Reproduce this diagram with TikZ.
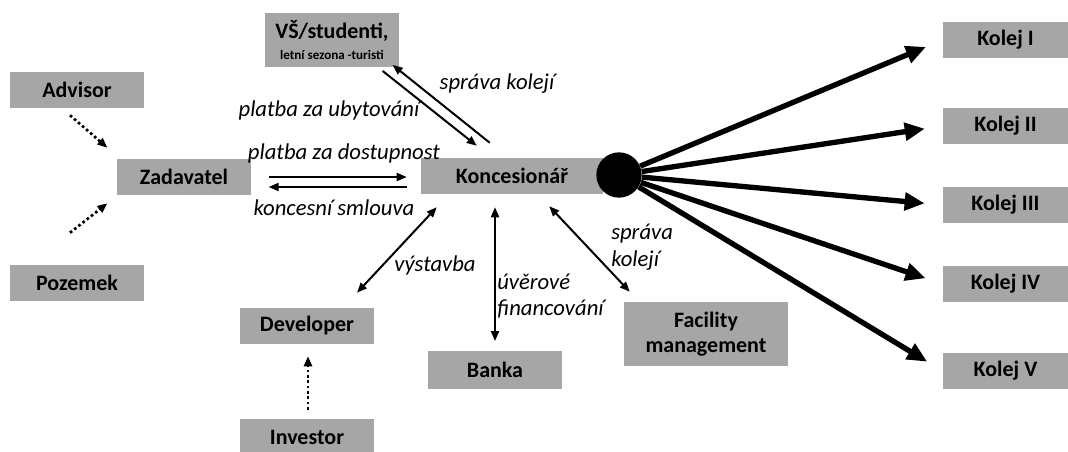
\documentclass[tikz,border=0pt]{standalone}
\usepackage{fontspec}
\setmainfont{Carlito}
\usetikzlibrary{arrows.meta,positioning,calc}
\definecolor{boxgray}{RGB}{166,166,166}

\begin{document}
\begin{tikzpicture}[x=0.75pt,y=-0.75pt,>={Triangle[length=7.5pt,width=6pt]},
    box/.style={fill=boxgray,inner sep=0pt,minimum width=101pt,minimum height=27pt,align=center,font=\fontsize{16.5}{19}\selectfont\bfseries},
    lbl/.style={font=\fontsize{17}{20}\selectfont\itshape,inner sep=0pt},
    link/.style={line width=1.5pt},
    dotlink/.style={line width=2pt,dash pattern=on 2pt off 2pt,->},
    fan/.style={line width=4pt,-{Triangle[length=15pt,width=13pt]},shorten >=13.5pt}]
    \useasboundingbox (0,0) rectangle (1068,452);
    % Contracting authority and its partners
    \node[box] (adv) at (77,90) {Advisor};
    \node[box] (zad) at (184,177) {Zadavatel};
    \node[box] (poz) at (77,283) {Pozemek};
    \draw[dotlink] ($(adv.south)+(-7,7)$) -- ($(zad.north west)+(-9,-11)$);
    \draw[dotlink] ($(poz.north)+(-7,-32)$) -- ($(zad.south west)+(-9,8)$);
    % Concessionaire
    \node[box,minimum width=136.5pt] (kon) at (512,176) {Koncesionář};
    \node[circle,fill=black,minimum size=34pt,inner sep=0pt] (hub) at (619,175) {};
    \node[box,minimum height=40pt] (vs) at (332,40) {VŠ/studenti,\\[-3pt]{\fontsize{9.8}{11}\selectfont letní sezona -turisti}};
    \draw[link,->] ($(zad.east)+(17,0)$) -- ($(kon.west)+(-14,1)$);
    \draw[link,<-] ($(zad.east)+(17,10)$) -- ($(kon.west)+(-14,11)$);
    \node[lbl] (dost) at (344,153) {platba za dostupnost};
    \node[lbl] (smlouva) at (334,208) {koncesní smlouva};
    \draw[link,->] ($(vs.south east)+(-17,4)$) -- ($(kon.north west)+(56,-12)$);
    \draw[link,->] ($(kon.north west)+(69,-15)$) -- ($(vs.south east)+(-7,-2)$);
    \node[lbl] (ubyt) at (329,110) {platba za ubytování};
    \node[lbl] (sprava) at (497,84) {správa kolejí};
    % Construction, financing, operation
    \node[box] (dev) at (307,326) {Developer};
    \node[box] (inv) at (307,437) {Investor};
    \node[box,minimum height=28pt] (ban) at (495,370) {Banka};
    \node[box,minimum width=123pt,minimum height=48pt] (fac) at (706,334) {Facility\\management};
    \draw[dotlink] ($(inv.north)+(1,-9)$) -- ($(dev.south)+(1,12)$);
    \draw[link,<->] ($(kon.south west)+(16,13)$) -- ($(dev.north)+(50,-15)$);
    \draw[link,<->] ($(kon.south)+(-17,13)$) -- ($(ban.north)+(0,-10)$);
    \draw[link,<->] ($(kon.south east)+(-54,12)$) -- ($(fac.north west)+(6,-10)$);
    \node[lbl] (vyst) at (435,265) {výstavba};
    \node[lbl,align=left,anchor=west] (uver) at (497,296) {úvěrové\\financování};
    \node[lbl,align=left,anchor=west] (sprava2) at (611,247) {správa\\kolejí};
    % Dormitories
    \node[box,minimum width=94pt] (k1) at (1005.5,40) {Kolej I};
    \node[box,minimum width=94pt] (k2) at (1005.5,126) {Kolej II};
    \node[box,minimum width=94pt] (k3) at (1005.5,205) {Kolej III};
    \node[box,minimum width=94pt] (k4) at (1005.5,284) {Kolej IV};
    \node[box,minimum width=94pt] (k5) at (1005.5,371) {Kolej V};
    \foreach \k in {k1,k2,k3,k4,k5}
      \draw[fan] (hub) -- (\k.west);
\end{tikzpicture}
\end{document}
